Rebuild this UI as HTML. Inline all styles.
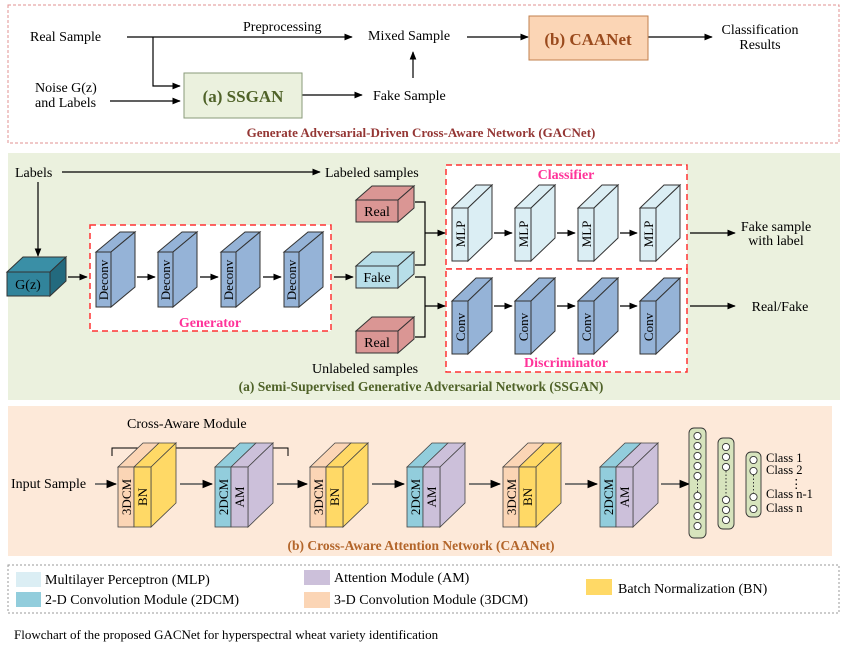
<!DOCTYPE html>
<html><head><meta charset="utf-8"><style>
html,body{margin:0;padding:0;background:#fff}
svg{display:block;font-family:"Liberation Serif",serif}
</style></head><body>
<svg width="848" height="647" viewBox="0 0 848 647" xmlns="http://www.w3.org/2000/svg">
<defs>
<marker id="a" viewBox="0 0 10 10" refX="9" refY="5" markerWidth="7" markerHeight="7" orient="auto"><path d="M0,1 L10,5 L0,9 z" fill="#000"/></marker>
</defs>
<g stroke="#000" stroke-width="1.2" fill="none">
</g>
<!-- TOP -->
<rect x="8" y="5" width="831" height="138" fill="#fff" stroke="#e09090" stroke-dasharray="3,2"/>
<g font-size="14" fill="#000">
<text x="30" y="41">Real Sample</text>
<text x="243" y="31">Preprocessing</text>
<text x="368" y="40">Mixed Sample</text>
<text x="35" y="92">Noise G(z)</text>
<text x="35" y="107">and Labels</text>
<text x="373" y="100">Fake Sample</text>
<text x="760" y="34" text-anchor="middle">Classification</text>
<text x="760" y="49" text-anchor="middle">Results</text>
</g>
<g stroke="#000" stroke-width="1.2" fill="none">
<line x1="127" y1="37" x2="352" y2="37" marker-end="url(#a)"/>
<polyline points="153,37 153,86 180,86" marker-end="url(#a)"/>
<line x1="110" y1="101" x2="180" y2="101" marker-end="url(#a)"/>
<line x1="302" y1="95" x2="362" y2="95" marker-end="url(#a)"/>
<line x1="413" y1="78" x2="413" y2="52" marker-end="url(#a)"/>
<line x1="467" y1="37" x2="528" y2="37" marker-end="url(#a)"/>
<line x1="648" y1="37" x2="712" y2="37" marker-end="url(#a)"/>
</g>
<rect x="184" y="73" width="118" height="45" fill="#ebf1de" stroke="#8a9a7a"/>
<text x="243" y="102" text-anchor="middle" font-size="17" font-weight="bold" fill="#4f6228">(a) SSGAN</text>
<rect x="529" y="16" width="119" height="44" fill="#fbd5b5" stroke="#c0804e"/>
<text x="588" y="45" text-anchor="middle" font-size="17" font-weight="bold" fill="#9a4a1d">(b) CAANet</text>
<text x="421" y="137" text-anchor="middle" font-size="13" font-weight="bold" fill="#943634">Generate Adversarial-Driven Cross-Aware Network (GACNet)</text>

<!-- SSGAN -->
<rect x="8" y="153" width="832" height="247" fill="#ebf1de"/>
<rect x="90" y="225" width="241" height="106" fill="#fff" stroke="#ff3333" stroke-width="1.5" stroke-dasharray="6,4"/>
<rect x="446" y="165" width="241" height="104" fill="#fff" stroke="#ff3333" stroke-width="1.5" stroke-dasharray="6,4"/>
<rect x="446" y="269" width="241" height="103" fill="#fff" stroke="#ff3333" stroke-width="1.5" stroke-dasharray="6,4"/>
<g font-size="14" fill="#000">
<text x="15" y="177">Labels</text>
<text x="325" y="177">Labeled samples</text>
<text x="312" y="373">Unlabeled samples</text>
<text x="776" y="231" text-anchor="middle">Fake sample</text>
<text x="776" y="245" text-anchor="middle">with label</text>
<text x="780" y="311" text-anchor="middle">Real/Fake</text>
</g>
<g font-size="14" font-weight="bold" fill="#ff3399" text-anchor="middle">
<text x="210" y="327">Generator</text>
<text x="566" y="179">Classifier</text>
<text x="566" y="367">Discriminator</text>
</g>
<text x="421" y="391" text-anchor="middle" font-size="13.5" font-weight="bold" fill="#4f6228">(a) Semi-Supervised Generative Adversarial Network (SSGAN)</text>
<g stroke="#000" stroke-width="1.2" fill="none">
<line x1="62" y1="172" x2="320" y2="172" marker-end="url(#a)"/>
<line x1="38" y1="182" x2="38" y2="256" marker-end="url(#a)"/>
<line x1="68" y1="277" x2="87" y2="277" marker-end="url(#a)"/>
<line x1="137" y1="277" x2="155" y2="277" marker-end="url(#a)"/>
<line x1="200" y1="277" x2="218" y2="277" marker-end="url(#a)"/>
<line x1="263" y1="277" x2="281" y2="277" marker-end="url(#a)"/>
<line x1="334" y1="277" x2="353" y2="277" marker-end="url(#a)"/>
<polyline points="415,202 425,202 425,265 415,265"/>
<line x1="425" y1="233" x2="445" y2="233" marker-end="url(#a)"/>
<polyline points="415,277 425,277 425,337 415,337"/>
<line x1="425" y1="306" x2="445" y2="306" marker-end="url(#a)"/>
<line x1="494" y1="233" x2="512" y2="233" marker-end="url(#a)"/>
<line x1="557" y1="233" x2="575" y2="233" marker-end="url(#a)"/>
<line x1="620" y1="233" x2="637" y2="233" marker-end="url(#a)"/>
<line x1="494" y1="306" x2="512" y2="306" marker-end="url(#a)"/>
<line x1="557" y1="306" x2="575" y2="306" marker-end="url(#a)"/>
<line x1="620" y1="306" x2="637" y2="306" marker-end="url(#a)"/>
<line x1="690" y1="233" x2="735" y2="233" marker-end="url(#a)"/>
<line x1="690" y1="306" x2="735" y2="306" marker-end="url(#a)"/>
</g>
<g stroke="#333" stroke-width="1">
<!-- G(z) -->
<polygon points="7,272 23,257 66,257 50,272" fill="#3a8fa6"/>
<polygon points="50,272 66,257 66,281 50,296" fill="#236a7e"/>
<rect x="7" y="272" width="43" height="24" fill="#31849b"/>
<!-- Deconv -->
<g fill="#95b3d7">
<polygon points="96,252 120,232 135,232 111,252"/><polygon points="111,252 135,232 135,287 111,307"/><rect x="96" y="252" width="15" height="55"/>
<polygon points="158,252 182,232 197,232 173,252"/><polygon points="173,252 197,232 197,287 173,307"/><rect x="158" y="252" width="15" height="55"/>
<polygon points="221,252 245,232 260,232 236,252"/><polygon points="236,252 260,232 260,287 236,307"/><rect x="221" y="252" width="15" height="55"/>
<polygon points="284,252 308,232 323,232 299,252"/><polygon points="299,252 323,232 323,287 299,307"/><rect x="284" y="252" width="15" height="55"/>
</g>
<!-- Real/Fake -->
<g fill="#da9694">
<polygon points="356,200 372,186 414,186 398,200"/><polygon points="398,200 414,186 414,208 398,222"/><rect x="356" y="200" width="42" height="22"/>
<polygon points="356,331 372,317 414,317 398,331"/><polygon points="398,331 414,317 414,339 398,353"/><rect x="356" y="331" width="42" height="22"/>
</g>
<g fill="#b7dee8">
<polygon points="356,266 372,252 414,252 398,266"/><polygon points="398,266 414,252 414,274 398,288"/><rect x="356" y="266" width="42" height="22"/>
</g>
<!-- MLP -->
<g fill="#dbeef4">
<polygon points="452,208 476,185 492,185 468,208"/><polygon points="468,208 492,185 492,238 468,261"/><rect x="452" y="208" width="16" height="53"/>
<polygon points="515,208 539,185 555,185 531,208"/><polygon points="531,208 555,185 555,238 531,261"/><rect x="515" y="208" width="16" height="53"/>
<polygon points="578,208 602,185 618,185 594,208"/><polygon points="594,208 618,185 618,238 594,261"/><rect x="578" y="208" width="16" height="53"/>
<polygon points="640,208 664,185 680,185 656,208"/><polygon points="656,208 680,185 680,238 656,261"/><rect x="640" y="208" width="16" height="53"/>
</g>
<g fill="#95b3d7">
<polygon points="452,301 476,278 492,278 468,301"/><polygon points="468,301 492,278 492,331 468,354"/><rect x="452" y="301" width="16" height="53"/>
<polygon points="515,301 539,278 555,278 531,301"/><polygon points="531,301 555,278 555,331 531,354"/><rect x="515" y="301" width="16" height="53"/>
<polygon points="578,301 602,278 618,278 594,301"/><polygon points="594,301 618,278 618,331 594,354"/><rect x="578" y="301" width="16" height="53"/>
<polygon points="640,301 664,278 680,278 656,301"/><polygon points="656,301 680,278 680,331 656,354"/><rect x="640" y="301" width="16" height="53"/>
</g>
</g>
<g font-size="14" fill="#000">
<text x="28" y="289" text-anchor="middle">G(z)</text>
<text x="377" y="216" text-anchor="middle">Real</text>
<text x="377" y="282" text-anchor="middle">Fake</text>
<text x="377" y="347" text-anchor="middle">Real</text>
</g>
<g font-size="13" fill="#000" text-anchor="middle">
<text transform="translate(108,280) rotate(-90)">Deconv</text>
<text transform="translate(170,280) rotate(-90)">Deconv</text>
<text transform="translate(233,280) rotate(-90)">Deconv</text>
<text transform="translate(296,280) rotate(-90)">Deconv</text>
<text transform="translate(465,234) rotate(-90)">MLP</text>
<text transform="translate(528,234) rotate(-90)">MLP</text>
<text transform="translate(591,234) rotate(-90)">MLP</text>
<text transform="translate(653,234) rotate(-90)">MLP</text>
<text transform="translate(465,327) rotate(-90)">Conv</text>
<text transform="translate(528,327) rotate(-90)">Conv</text>
<text transform="translate(591,327) rotate(-90)">Conv</text>
<text transform="translate(653,327) rotate(-90)">Conv</text>
</g>

<!-- CAANet -->
<rect x="8" y="406" width="824" height="150" fill="#fde9d9"/>
<text x="127" y="428" font-size="14">Cross-Aware Module</text>
<polyline points="112,456 112,448 288,448 288,456" stroke="#000" stroke-width="1" fill="none"/>
<text x="11" y="488" font-size="14">Input Sample</text>
<g stroke="#555" stroke-width="1.5" fill="none">
<line x1="95" y1="484" x2="116" y2="484" marker-end="url(#a)"/>
<line x1="180" y1="484" x2="212" y2="484" marker-end="url(#a)"/>
<line x1="277" y1="484" x2="307" y2="484" marker-end="url(#a)"/>
<line x1="372" y1="484" x2="404" y2="484" marker-end="url(#a)"/>
<line x1="469" y1="484" x2="500" y2="484" marker-end="url(#a)"/>
<line x1="565" y1="484" x2="597" y2="484" marker-end="url(#a)"/>
<line x1="661" y1="484" x2="689" y2="484" marker-end="url(#a)"/>
</g>
<g stroke="#444" stroke-width="0.8">
<!-- 3DCM/BN x=118 -->
<polygon points="118,467 143,443 159,443 134,467" fill="#fbd5b5"/><polygon points="134,467 159,443 176,443 151,467" fill="#ffd966"/><polygon points="151,467 176,443 176,503 151,527" fill="#ffd966"/><rect x="118" y="467" width="16" height="60" fill="#fbd5b5"/><rect x="134" y="467" width="17" height="60" fill="#ffd966"/>
<polygon points="310,467 335,443 351,443 326,467" fill="#fbd5b5"/><polygon points="326,467 351,443 368,443 343,467" fill="#ffd966"/><polygon points="343,467 368,443 368,503 343,527" fill="#ffd966"/><rect x="310" y="467" width="16" height="60" fill="#fbd5b5"/><rect x="326" y="467" width="17" height="60" fill="#ffd966"/>
<polygon points="503,467 528,443 544,443 519,467" fill="#fbd5b5"/><polygon points="519,467 544,443 561,443 536,467" fill="#ffd966"/><polygon points="536,467 561,443 561,503 536,527" fill="#ffd966"/><rect x="503" y="467" width="16" height="60" fill="#fbd5b5"/><rect x="519" y="467" width="17" height="60" fill="#ffd966"/>
<!-- 2DCM/AM -->
<polygon points="215,467 240,443 256,443 231,467" fill="#92cddc"/><polygon points="231,467 256,443 273,443 248,467" fill="#ccc0da"/><polygon points="248,467 273,443 273,503 248,527" fill="#ccc0da"/><rect x="215" y="467" width="16" height="60" fill="#92cddc"/><rect x="231" y="467" width="17" height="60" fill="#ccc0da"/>
<polygon points="407,467 432,443 448,443 423,467" fill="#92cddc"/><polygon points="423,467 448,443 465,443 440,467" fill="#ccc0da"/><polygon points="440,467 465,443 465,503 440,527" fill="#ccc0da"/><rect x="407" y="467" width="16" height="60" fill="#92cddc"/><rect x="423" y="467" width="17" height="60" fill="#ccc0da"/>
<polygon points="600,467 625,443 641,443 616,467" fill="#92cddc"/><polygon points="616,467 641,443 658,443 633,467" fill="#ccc0da"/><polygon points="633,467 658,443 658,503 633,527" fill="#ccc0da"/><rect x="600" y="467" width="16" height="60" fill="#92cddc"/><rect x="616" y="467" width="17" height="60" fill="#ccc0da"/>
</g>
<g font-size="13" fill="#000" text-anchor="middle">
<text transform="translate(131,497) rotate(-90)">3DCM</text><text transform="translate(147,497) rotate(-90)">BN</text>
<text transform="translate(323,497) rotate(-90)">3DCM</text><text transform="translate(339,497) rotate(-90)">BN</text>
<text transform="translate(516,497) rotate(-90)">3DCM</text><text transform="translate(532,497) rotate(-90)">BN</text>
<text transform="translate(228,497) rotate(-90)">2DCM</text><text transform="translate(244,497) rotate(-90)">AM</text>
<text transform="translate(420,497) rotate(-90)">2DCM</text><text transform="translate(436,497) rotate(-90)">AM</text>
<text transform="translate(613,497) rotate(-90)">2DCM</text><text transform="translate(629,497) rotate(-90)">AM</text>
</g>
<!-- neurons -->
<g stroke="#333" stroke-width="0.9">
<rect x="689" y="428" width="17" height="110" rx="5" fill="#d7e4bd"/>
<rect x="718" y="438" width="16" height="91" rx="5" fill="#d7e4bd"/>
<rect x="746" y="452" width="15" height="65" rx="5" fill="#d7e4bd"/>
</g>
<g stroke="#333" stroke-width="0.9" fill="#fff">
<circle cx="697.5" cy="436" r="3.6"/><circle cx="697.5" cy="446" r="3.6"/><circle cx="697.5" cy="456" r="3.6"/><circle cx="697.5" cy="466" r="3.6"/><circle cx="697.5" cy="476" r="3.6"/>
<circle cx="697.5" cy="496" r="3.6"/><circle cx="697.5" cy="506" r="3.6"/><circle cx="697.5" cy="516" r="3.6"/><circle cx="697.5" cy="526" r="3.6"/>
<circle cx="726" cy="447" r="3.6"/><circle cx="726" cy="457" r="3.6"/><circle cx="726" cy="467" r="3.6"/><circle cx="726" cy="500" r="3.6"/><circle cx="726" cy="510" r="3.6"/><circle cx="726" cy="520" r="3.6"/>
<circle cx="753.5" cy="460" r="3.6"/><circle cx="753.5" cy="471" r="3.6"/><circle cx="753.5" cy="497" r="3.6"/><circle cx="753.5" cy="509" r="3.6"/>
</g>
<g stroke="#333" stroke-dasharray="1.5,2"><line x1="697.5" y1="480" x2="697.5" y2="492"/><line x1="726" y1="471" x2="726" y2="496"/><line x1="753.5" y1="475" x2="753.5" y2="493"/></g>
<g font-size="12.5" fill="#000">
<text x="766" y="462">Class 1</text><text x="766" y="474">Class 2</text>
<text x="790" y="488">⋮</text>
<text x="766" y="498">Class n-1</text><text x="766" y="512">Class n</text>
</g>
<text x="421" y="550" text-anchor="middle" font-size="13.5" font-weight="bold" fill="#b3652a">(b) Cross-Aware Attention Network (CAANet)</text>

<!-- legend -->
<rect x="8" y="565" width="831" height="48" fill="#fff" stroke="#999" stroke-dasharray="2,2"/>
<rect x="16" y="572" width="25" height="15" fill="#dbeef4"/>
<rect x="16" y="592" width="25" height="15" fill="#92cddc"/>
<rect x="304" y="570" width="26" height="15" fill="#ccc0da"/>
<rect x="304" y="592" width="26" height="16" fill="#fbd5b5"/>
<rect x="586" y="579" width="26" height="16" fill="#ffd966"/>
<g font-size="14" fill="#000">
<text x="45" y="584">Multilayer Perceptron (MLP)</text>
<text x="45" y="604">2-D Convolution Module (2DCM)</text>
<text x="334" y="582">Attention Module (AM)</text>
<text x="334" y="604">3-D Convolution Module (3DCM)</text>
<text x="618" y="593">Batch Normalization (BN)</text>
</g>
<text x="14" y="639" font-size="13" fill="#000">Flowchart of the proposed GACNet for hyperspectral wheat variety identification</text>
</svg>
</body></html>
